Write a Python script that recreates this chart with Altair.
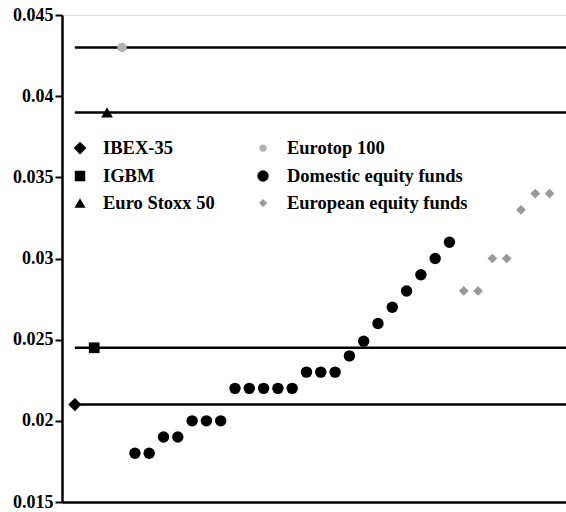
import altair as alt
import pandas as pd

# Market indices: name, horizontal position, value
index_names = ["IBEX-35", "IGBM", "Euro Stoxx 50", "Eurotop 100"]
index_pos = [0.8, 2.15, 3.05, 4.1]
index_vals = [0.021, 0.0245, 0.039, 0.043]

# Fund groups, sorted ascending
domestic_vals = [0.018, 0.018, 0.019, 0.019, 0.020, 0.020, 0.020,
                 0.022, 0.022, 0.022, 0.022, 0.022,
                 0.023, 0.023, 0.023, 0.024, 0.0249, 0.026, 0.027,
                 0.028, 0.029, 0.030, 0.031]
european_vals = [0.028, 0.028, 0.030, 0.030, 0.033, 0.034, 0.034]

series_names = ["IBEX-35", "IGBM", "Euro Stoxx 50", "Eurotop 100",
                "Domestic equity funds", "European equity funds"]
series_shapes = ["diamond", "square", "triangle-up", "circle", "circle", "diamond"]
series_colors = ["#000000", "#000000", "#000000", "#b3b3b3", "#000000", "#999999"]
series_sizes = [175, 115, 135, 90, 130, 95]
legend_sizes = [165, 110, 120, 55, 130, 65]

SERIF = "Liberation Serif"
X_MIN, X_MAX = -0.1, 35.15
Y_MIN, Y_MAX = 0.015, 0.045
W, H = 504, 487

size_of = dict(zip(series_names, series_sizes))
rows = []
for n, p, v in zip(index_names, index_pos, index_vals):
    rows.append({"x": p, "y": v, "series": n})
first_fund = 5
for i, v in enumerate(domestic_vals):
    rows.append({"x": first_fund + i, "y": v, "series": "Domestic equity funds"})
for j, v in enumerate(european_vals):
    rows.append({"x": first_fund + len(domestic_vals) + j, "y": v,
                 "series": "European equity funds"})
points = pd.DataFrame(rows)
points["sz"] = points["series"].map(size_of)

# Reference lines at each index level, starting at the first index
ref = pd.DataFrame({"y": index_vals, "x": [index_pos[0]] * 4, "x2": [X_MAX] * 4})

# Legend placed inside the plot, two columns of three rows
leg_rows_y = [0.0368, 0.03508, 0.03342]
leg_col_sym = [1.16, 13.96]
leg_col_txt = [2.77, 15.63]
leg = pd.DataFrame({
    "series": series_names,
    "sx": [leg_col_sym[k // 3] for k in range(6)],
    "tx": [leg_col_txt[k // 3] for k in range(6)],
    "y": [leg_rows_y[k % 3] for k in range(6)],
    "sz": legend_sizes,
})

xs = alt.Scale(domain=[X_MIN, X_MAX], nice=False, zero=False)
ys = alt.Scale(domain=[Y_MIN, Y_MAX], nice=False, zero=False)
shape_s = alt.Scale(domain=series_names, range=series_shapes)
color_s = alt.Scale(domain=series_names, range=series_colors)

x_axis = alt.Axis(labels=False, ticks=False, grid=False, title=None,
                  domainColor="black", domainWidth=2.5)
y_axis = alt.Axis(values=[0.015, 0.02, 0.025, 0.03, 0.035, 0.04, 0.045],
                  format="~g", grid=False, title=None, tickSize=7, tickWidth=2,
                  tickColor="black", domainColor="black", domainWidth=2.5,
                  labelFont=SERIF, labelFontWeight="bold",
                  labelFontSize=18, labelColor="black", labelPadding=2)

lines = alt.Chart(ref).mark_rule(color="black", strokeWidth=2.5).encode(
    x=alt.X("x:Q", scale=xs, axis=x_axis),
    x2="x2:Q",
    y=alt.Y("y:Q", scale=ys, axis=y_axis),
)

marks = alt.Chart(points).mark_point(filled=True, opacity=1).encode(
    x=alt.X("x:Q", scale=xs),
    y=alt.Y("y:Q", scale=ys),
    shape=alt.Shape("series:N", scale=shape_s, legend=None),
    color=alt.Color("series:N", scale=color_s, legend=None),
    size=alt.Size("sz:Q", scale=None),
)

leg_sym = alt.Chart(leg).mark_point(filled=True, opacity=1).encode(
    x=alt.X("sx:Q", scale=xs),
    y=alt.Y("y:Q", scale=ys),
    shape=alt.Shape("series:N", scale=shape_s, legend=None),
    color=alt.Color("series:N", scale=color_s, legend=None),
    size=alt.Size("sz:Q", scale=None),
)

leg_txt = alt.Chart(leg).mark_text(align="left", baseline="middle",
                                   font=SERIF, fontSize=18.5,
                                   fontWeight="bold", color="black").encode(
    x=alt.X("tx:Q", scale=xs),
    y=alt.Y("y:Q", scale=ys),
    text="series:N",
)

chart = alt.layer(lines, marks, leg_sym, leg_txt).properties(
    width=W, height=H,
    padding={"left": 62, "top": 15, "right": 0, "bottom": 10},
    autosize=alt.AutoSizeParams(type="none"),
).configure_view(stroke=None).configure(background="white")

chart.save("out.html", embed_options={"renderer": "svg", "actions": False})
